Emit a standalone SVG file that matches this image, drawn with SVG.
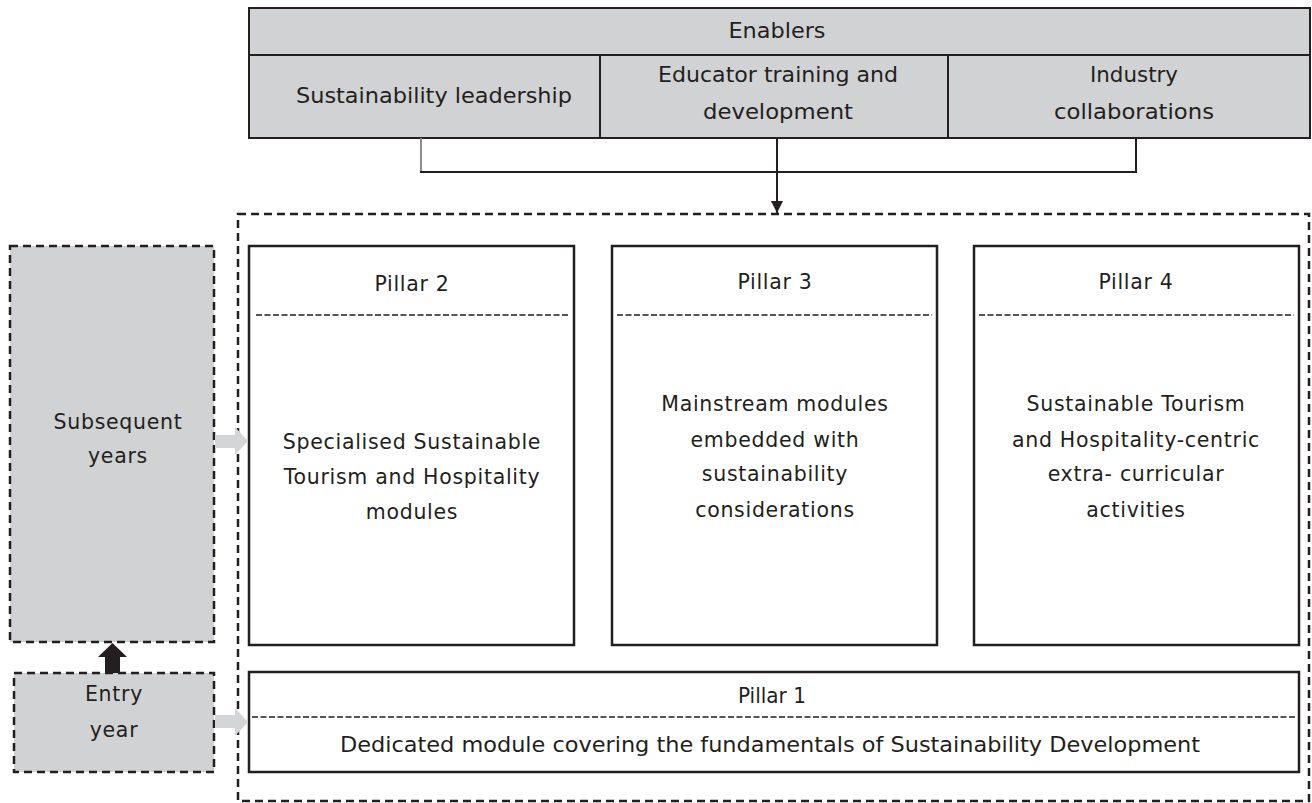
<svg xmlns="http://www.w3.org/2000/svg" width="1312" height="803" viewBox="0 0 1312 803">
<defs>
<style>
.cond{font-family:"DejaVu Sans Condensed","DejaVu Sans",sans-serif;font-stretch:condensed;font-size:21px;fill:#231f20;text-anchor:middle}
.mont{font-family:"DejaVu Sans","Open Sans",sans-serif;font-size:20.5px;fill:#231f20;text-anchor:middle;letter-spacing:0.7px}
.gbox{fill:#d1d2d4;stroke:#231f20;stroke-width:2}
.wbox{fill:#ffffff;stroke:#231f20;stroke-width:2.5}
.dashbox{stroke:#231f20;stroke-width:2.5;stroke-dasharray:8 5}
.divider{stroke:#231f20;stroke-width:1.6;stroke-dasharray:6 2.5}
.line{stroke:#231f20;stroke-width:2;fill:none}
.garrow{fill:#d4d5d7}
</style>
<marker id="ah" viewBox="0 0 10 10" refX="10" refY="5" markerWidth="12" markerHeight="12" markerUnits="userSpaceOnUse" orient="auto">
<path d="M0,0 L10,5 L0,10 Z" fill="#231f20"/>
</marker>
</defs>
<rect width="1312" height="803" fill="#ffffff"/>

<g id="enablers">
<rect class="gbox" x="249" y="8" width="1061" height="130"/>
<line class="line" x1="249" y1="55" x2="1310" y2="55" stroke-width="2.5"/>
<line class="line" x1="600" y1="55" x2="600" y2="138"/>
<line class="line" x1="948" y1="55" x2="948" y2="138"/>
<text class="cond" x="777" y="38" textLength="97" lengthAdjust="spacingAndGlyphs">Enablers</text>
<text class="cond" x="434" y="103" textLength="276" lengthAdjust="spacingAndGlyphs">Sustainability leadership</text>
<text class="cond" x="778" y="82" textLength="240" lengthAdjust="spacingAndGlyphs">Educator training and</text>
<text class="cond" x="778" y="119" textLength="150" lengthAdjust="spacingAndGlyphs">development</text>
<text class="cond" x="1134" y="82" textLength="88" lengthAdjust="spacingAndGlyphs">Industry</text>
<text class="cond" x="1134" y="119" textLength="160" lengthAdjust="spacingAndGlyphs">collaborations</text>
</g>

<g id="container">
<rect x="238" y="214" width="1071" height="587" fill="none" class="dashbox"/>
</g>

<g id="pillar2">
<rect class="wbox" x="249" y="246" width="325" height="399"/>
<line class="divider" x1="256" y1="315" x2="569" y2="315"/>
<text class="mont" x="412" y="291">Pillar 2</text>
<text class="mont" x="412" y="449">Specialised Sustainable</text>
<text class="mont" x="412" y="484">Tourism and Hospitality</text>
<text class="mont" x="412" y="519">modules</text>
</g>

<g id="pillar3">
<rect class="wbox" x="612" y="246" width="325" height="399"/>
<line class="divider" x1="617" y1="315" x2="932" y2="315"/>
<text class="mont" x="775" y="289">Pillar 3</text>
<text class="mont" x="775" y="411">Mainstream modules</text>
<text class="mont" x="775" y="447">embedded with</text>
<text class="mont" x="775" y="481">sustainability</text>
<text class="mont" x="775" y="517">considerations</text>
</g>

<g id="pillar4">
<rect class="wbox" x="974" y="246" width="325" height="399"/>
<line class="divider" x1="979" y1="315" x2="1294" y2="315"/>
<text class="mont" x="1136" y="289">Pillar 4</text>
<text class="mont" x="1136" y="411">Sustainable Tourism</text>
<text class="mont" x="1136" y="447">and Hospitality-centric</text>
<text class="mont" x="1136" y="481">extra- curricular</text>
<text class="mont" x="1136" y="517">activities</text>
</g>

<g id="pillar1">
<rect class="wbox" x="249" y="672" width="1050" height="100"/>
<line class="divider" x1="252" y1="717" x2="1296" y2="717"/>
<text class="cond" x="772" y="703" textLength="68" lengthAdjust="spacingAndGlyphs">Pillar 1</text>
<text class="cond" x="770" y="752" textLength="860" lengthAdjust="spacingAndGlyphs">Dedicated module covering the fundamentals of Sustainability Development</text>
</g>

<g id="subsequent">
<rect x="10" y="246" width="204" height="396" fill="#d1d2d4" class="dashbox"/>
<text class="mont" x="118" y="429">Subsequent</text>
<text class="mont" x="118" y="463">years</text>
</g>

<g id="entry">
<rect x="14" y="673" width="200" height="99" fill="#d1d2d4" class="dashbox"/>
<text class="mont" x="114" y="701">Entry</text>
<text class="mont" x="114" y="737">year</text>
</g>

<g id="connectors">
<line x1="421" y1="138" x2="421" y2="172" stroke="#8a8a8a" stroke-width="2"/>
<line class="line" x1="420" y1="172" x2="1137" y2="172"/>
<line class="line" x1="1136" y1="138" x2="1136" y2="172"/>
<line class="line" x1="777" y1="138" x2="777" y2="213" marker-end="url(#ah)"/>
<path fill="#231f20" d="M105,673 L105,657 L98,657 L112.5,643 L127,657 L120,657 L120,673 Z"/>
<path class="garrow" d="M215,435 L235,435 L235,427 L248,441 L235,455 L235,448 L215,448 Z"/>
<path class="garrow" d="M215,715 L235,715 L235,708 L248,722 L235,736 L235,728 L215,728 Z"/>
</g>
</svg>
